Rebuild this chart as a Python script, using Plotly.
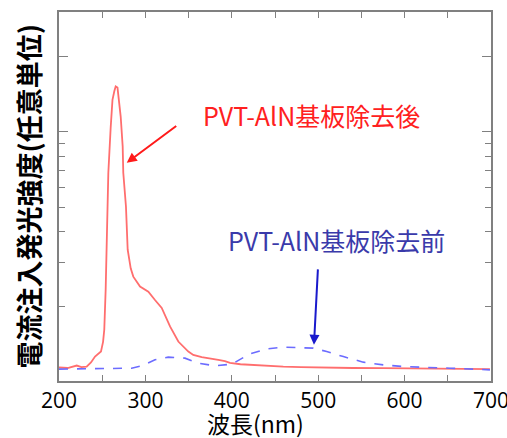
import plotly.graph_objects as go

# Wavelength (nm) and EL intensity (arb. units, log axis)
red_wl = [200, 210, 220.5, 226, 232, 237, 241.7, 245, 248.6, 251, 252.4, 254, 255.9, 257.1, 259.8,
          261.9, 264, 265.6, 267.7, 269.5, 271.4, 273.7, 274.4, 277.5, 278.4, 279.5, 283, 286,
          293.8, 303.4, 311.1, 318.9, 328.5, 338.1, 349.7, 355.4, 365.2, 375, 384.4, 392, 397.9,
          410, 421, 440, 459.6, 480, 498.3, 520, 540, 575.3, 600, 630, 660, 698.8]
red_val = [1.145, 1.14, 1.166, 1.15, 1.155, 1.2, 1.266, 1.3, 1.326, 1.45, 1.62, 2.34, 4.14, 6.86, 10.37,
           13.4, 14.5, 15.17, 15.0, 13.2, 11.5, 8.74, 6.86, 5.03, 4.14, 3.38, 2.85, 2.64,
           2.41, 2.30, 2.13, 1.98, 1.67, 1.454, 1.326, 1.286, 1.26, 1.24, 1.229, 1.215, 1.195,
           1.18, 1.173, 1.16, 1.155, 1.15, 1.145, 1.142, 1.14, 1.138, 1.135, 1.133, 1.13, 1.128]

blue_wl = [200, 240, 284.1, 295.7, 311.1, 326.5, 345.8, 361.2, 380.6, 399.9, 410, 421, 440.4,
           459.6, 494.3, 509.8, 529.1, 552.2, 575.3, 598.5, 652.5, 698.8]
blue_val = [1.128, 1.13, 1.138, 1.163, 1.229, 1.26, 1.248, 1.192, 1.163, 1.181, 1.24, 1.298, 1.359,
            1.381, 1.368, 1.326, 1.266, 1.203, 1.173, 1.155, 1.138, 1.121]

x_ticks = [200, 250, 300, 350, 400, 450, 500, 550, 600, 650, 700]
x_tick_text = ["200", "", "300", "", "400", "", "500", "", "600", "", "700"]
y_major_ticks = [10, 20]
y_minor_ticks = [2, 3, 4, 5, 6, 7, 8, 9]

label_after = "PVT-AlN基板除去後"
label_before = "PVT-AlN基板除去前"
x_title = "波長(nm)"
y_title = "電流注入発光強度(任意単位)"

jp_font = "Noto Sans CJK JP"

fig = go.Figure()
fig.add_trace(go.Scatter(x=red_wl, y=red_val, mode="lines",
                         line=dict(color="#ff6e6e", width=1.8), showlegend=False))
fig.add_trace(go.Scatter(x=blue_wl, y=blue_val, mode="lines",
                         line=dict(color="#6c6cff", width=1.6, dash="dash"), showlegend=False))

fig.update_layout(
    width=507, height=438,
    margin=dict(l=59, r=16, t=12, b=57, autoexpand=False),
    paper_bgcolor="white", plot_bgcolor="white",
    font=dict(family="Open Sans", size=21, color="black"),
    xaxis=dict(range=[200, 700], tickmode="array", tickvals=x_ticks, ticktext=x_tick_text,
               ticks="inside", ticklen=6, tickcolor="#808080", tickwidth=1.2,
               showline=True, linecolor="#808080", linewidth=1.5, mirror="ticks",
               showgrid=False, zeroline=False, tickfont=dict(size=21),
               ticklabeloverflow="allow", automargin=False),
    yaxis=dict(type="log", range=[0.005, 1.478], tickmode="array", tickvals=y_major_ticks,
               showticklabels=False, ticks="inside", ticklen=9, tickcolor="#808080", tickwidth=1.2,
               showline=True, linecolor="#808080", linewidth=1.5, mirror="ticks",
               showgrid=False, zeroline=False, automargin=False,
               minor=dict(tickmode="array", tickvals=y_minor_ticks, ticks="inside", ticklen=6,
                          tickcolor="#808080", tickwidth=1.2, showgrid=False)),
)

fig.add_annotation(text=x_title, xref="paper", yref="paper", x=0.455, y=0, yshift=-42,
                   showarrow=False, xanchor="center", yanchor="middle",
                   font=dict(family=jp_font, size=23, color="black"))
fig.add_annotation(text=y_title, xref="paper", yref="paper", x=0, xshift=-31, y=0.5,
                   textangle=-90, showarrow=False, xanchor="center", yanchor="middle",
                   font=dict(family=jp_font, size=27, color="black", weight="bold"))

# labels
fig.add_annotation(text=label_after, x=492.8, y=1.068, xref="x", yref="y", showarrow=False,
                   font=dict(family=jp_font, size=25, color="#ff2020"))
fig.add_annotation(text=label_before, x=520.6, y=0.5687, xref="x", yref="y", showarrow=False,
                   font=dict(family=jp_font, size=25, color="#3a3aaa"))
# arrows
fig.add_annotation(text="", x=278.4, y=0.876, xref="x", yref="y", ax=51, ay=-38,
                   showarrow=True, arrowhead=2, arrowsize=1, arrowwidth=2, arrowcolor="#ff1a1a")
fig.add_annotation(text="", x=495.1, y=0.1494, xref="x", yref="y", ax=4, ay=-77,
                   showarrow=True, arrowhead=2, arrowsize=1, arrowwidth=2, arrowcolor="#1a1acc")

fig.write_html("out.html", config={"displayModeBar": False},
               post_script="document.body.style.margin='0';")
